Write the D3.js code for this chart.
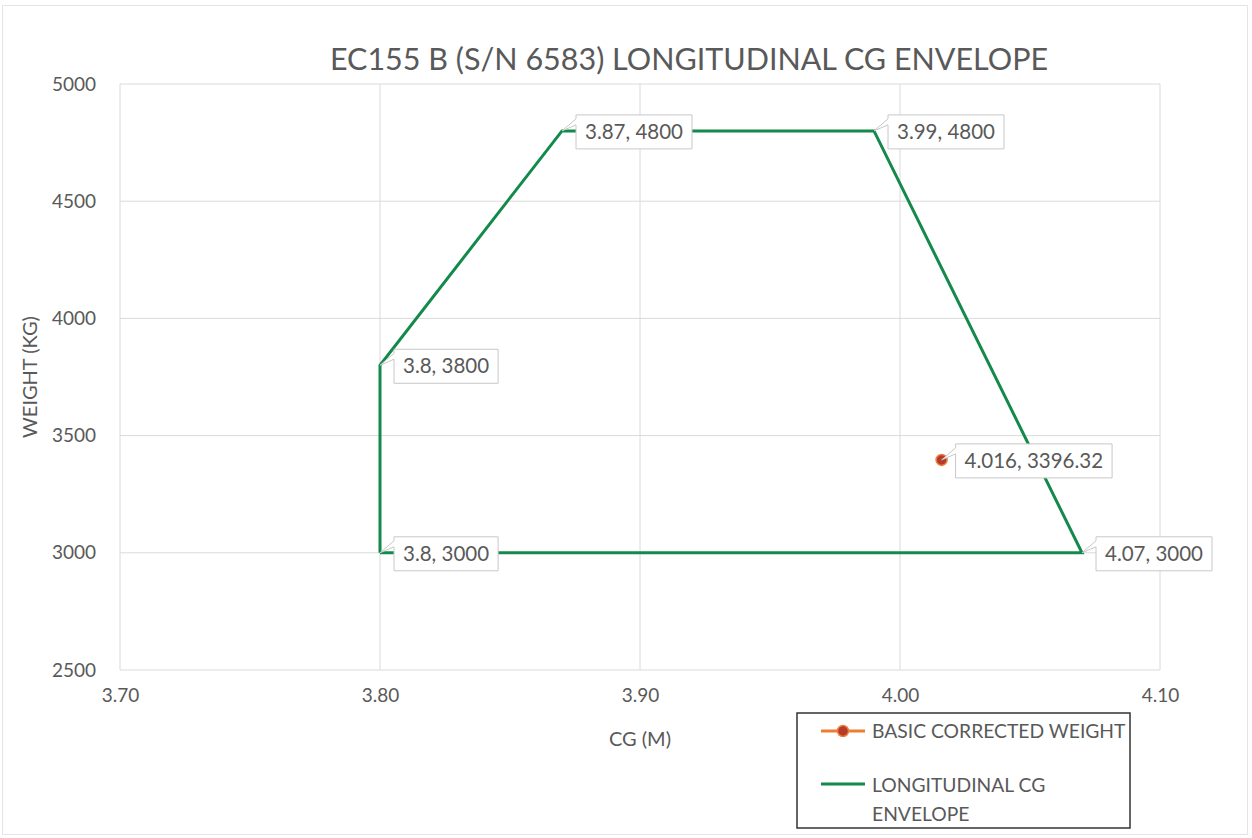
<!DOCTYPE html>
<html lang="en">
<head>
<meta charset="utf-8">
<script src="https://d3js.org/d3.v7.min.js"></script>
<style type="text/css">
body {
	margin: 0;
	background-color: white;
	font-family: Lato, "Open Sans", sans-serif;
}
.tick text {
	fill: #595959;
	font-size: 19px;
	font-family: Lato, sans-serif;
}
</style>
</head>
<body>
<svg id="chart"></svg>
<script type="text/javascript">

	// envelope corners, in drawing order
	var envelopeCg = [3.80, 3.80, 3.87, 3.99, 4.07, 3.80];
	var envelopeWeight = [3000, 3800, 4800, 4800, 3000, 3000];
	// basic corrected weight point
	var basicCg = [4.016];
	var basicWeight = [3396.32];
	// labels shown next to points
	var envelopeLabels = ["3.8, 3000", "3.8, 3800", "3.87, 4800", "3.99, 4800", "4.07, 3000"];
	var basicLabels = ["4.016, 3396.32"];
	var xTicks = [3.70, 3.80, 3.90, 4.00, 4.10];
	var yTicks = [2500, 3000, 3500, 4000, 4500, 5000];

	var width = 1252, height = 838;
	var plotLeft = 120, plotRight = 1160, plotTop = 84, plotBottom = 670;
	var green = "#138a4b";

	var svg = d3.select("#chart")
		.attr("width", width)
		.attr("height", height);

	// faint chart border
	svg.append("rect")
		.attr("x", 2.5).attr("y", 5.5)
		.attr("width", 1245).attr("height", 829)
		.attr("fill", "none")
		.attr("stroke", "#e4e4e4");

	var x = d3.scaleLinear().domain([3.70, 4.10]).range([plotLeft, plotRight]);
	var y = d3.scaleLinear().domain([2500, 5000]).range([plotBottom, plotTop]);

	// gridlines
	svg.append("g")
		.selectAll("line")
		.data(yTicks)
		.join("line")
		.attr("x1", plotLeft).attr("x2", plotRight)
		.attr("y1", d => y(d)).attr("y2", d => y(d))
		.attr("stroke", "#dadada");
	svg.append("g")
		.selectAll("line")
		.data(xTicks)
		.join("line")
		.attr("x1", d => x(d)).attr("x2", d => x(d))
		.attr("y1", plotTop).attr("y2", plotBottom)
		.attr("stroke", "#dadada");

	// axes (labels only)
	var xAxis = svg.append("g")
		.attr("transform", "translate(0," + plotBottom + ")")
		.call(d3.axisBottom(x).tickValues(xTicks).tickFormat(d3.format(".2f")).tickSize(0).tickPadding(19));
	xAxis.select(".domain").remove();

	var yAxis = svg.append("g")
		.attr("transform", "translate(" + plotLeft + ",0)")
		.call(d3.axisLeft(y).tickValues(yTicks).tickFormat(d3.format("d")).tickSize(0).tickPadding(24));
	yAxis.select(".domain").remove();

	// axis titles
	svg.append("text")
		.attr("x", (x(3.70) + x(4.10)) / 2).attr("y", 746)
		.attr("text-anchor", "middle")
		.attr("fill", "#595959")
		.style("font-size", "20px")
		.text("CG (M)");
	svg.append("text")
		.attr("transform", "translate(37," + ((plotTop + plotBottom) / 2) + ") rotate(-90)")
		.attr("text-anchor", "middle")
		.attr("fill", "#595959")
		.style("font-size", "20px")
		.text("WEIGHT (KG)");

	// title
	svg.append("text")
		.attr("x", 689).attr("y", 70)
		.attr("text-anchor", "middle")
		.attr("fill", "#595959")
		.style("font-size", "30.5px")
		.text("EC155 B (S/N 6583) LONGITUDINAL CG ENVELOPE");

	// envelope line
	var envelope = envelopeCg.map((c, i) => [c, envelopeWeight[i]]);
	var line = d3.line().x(d => x(d[0])).y(d => y(d[1]));
	svg.append("path")
		.datum(envelope)
		.attr("d", line)
		.attr("fill", "none")
		.attr("stroke", green)
		.attr("stroke-width", 3)
		.attr("stroke-linejoin", "miter");

	// basic corrected weight marker
	svg.selectAll("circle.basic")
		.data(basicCg.map((c, i) => [c, basicWeight[i]]))
		.join("circle")
		.attr("class", "basic")
		.attr("cx", d => x(d[0]))
		.attr("cy", d => y(d[1]))
		.attr("r", 5.5)
		.attr("fill", "#b83a2a")
		.attr("stroke", "#e8823e")
		.attr("stroke-width", 1.5);

	// data callouts
	var callouts = envelopeLabels.map((t, i) => ({cg: envelopeCg[i], w: envelopeWeight[i], text: t}))
		.concat(basicLabels.map((t, i) => ({cg: basicCg[i], w: basicWeight[i], text: t})));

	var cg = svg.append("g").selectAll("g")
		.data(callouts)
		.join("g")
		.attr("transform", d => "translate(" + x(d.cg) + "," + y(d.w) + ")");

	cg.append("text")
		.attr("x", 23)
		.attr("y", 8)
		.attr("fill", "#595959")
		.style("font-size", "20.5px")
		.text(d => d.text);

	cg.each(function(d) {
		var g = d3.select(this);
		var w = g.select("text").node().getComputedTextLength() + 18;
		var bx = 14, by = -16, bh = 34;
		var p = "M" + bx + "," + by + " H" + (bx + w) + " V" + (by + bh) + " H" + bx +
			" V" + (by + 10) + " L0,0 L" + bx + "," + (by + 4) + " Z";
		g.insert("path", "text")
			.attr("d", p)
			.attr("fill", "white")
			.attr("stroke", "#c8c8c8")
			.attr("stroke-width", 1);
	});

	// legend
	var lg = svg.append("g").attr("transform", "translate(797,713)");
	lg.append("rect")
		.attr("width", 333).attr("height", 115)
		.attr("fill", "white")
		.attr("stroke", "#333")
		.attr("stroke-width", 1.5);
	lg.append("line")
		.attr("x1", 24).attr("x2", 68).attr("y1", 18).attr("y2", 18)
		.attr("stroke", "#ed7d31").attr("stroke-width", 3);
	lg.append("circle")
		.attr("cx", 46).attr("cy", 18).attr("r", 5.5)
		.attr("fill", "#b83a2a").attr("stroke", "#e8823e").attr("stroke-width", 1.5);
	lg.append("text")
		.attr("x", 75).attr("y", 25)
		.attr("fill", "#595959").style("font-size", "19.3px")
		.text("BASIC CORRECTED WEIGHT");
	lg.append("line")
		.attr("x1", 24).attr("x2", 68).attr("y1", 71).attr("y2", 71)
		.attr("stroke", green).attr("stroke-width", 3);
	lg.append("text")
		.attr("x", 75).attr("y", 79)
		.attr("fill", "#595959").style("font-size", "19.3px")
		.text("LONGITUDINAL CG");
	lg.append("text")
		.attr("x", 75).attr("y", 108)
		.attr("fill", "#595959").style("font-size", "19.3px")
		.text("ENVELOPE");

</script>
</body>
</html>
